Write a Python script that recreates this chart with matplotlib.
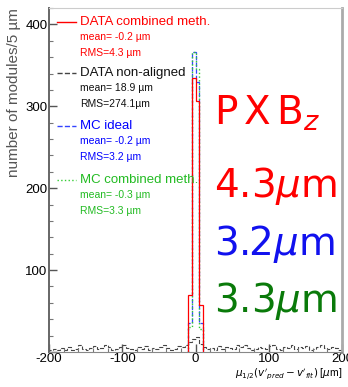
import numpy as np
import matplotlib
matplotlib.use('Agg')
import matplotlib.pyplot as plt
from matplotlib.ticker import MultipleLocator, FuncFormatter

plt.rcParams['font.family'] = ['Liberation Sans', 'DejaVu Sans']
plt.rcParams['mathtext.fontset'] = 'dejavusans'
plt.rcParams['axes.unicode_minus'] = False

# bins of 5 um from -200 to 200
edges = np.arange(-200, 205, 5)

# DATA non-aligned : broad, few modules per bin
data_nonal = [2, 4, 3, 5, 2, 6, 3, 4, 8, 4,
              3, 5, 7, 4, 5, 8, 6, 3, 4, 6,
              8, 5, 4, 3, 6, 4, 7, 3, 5, 4,
              6, 8, 5, 3, 4, 7, 6, 9, 12, 16,
              18, 10, 6, 4, 5, 3, 7, 4, 6, 5,
              4, 8, 6, 9, 5, 3, 4, 6, 5, 4,
              7, 9, 4, 3, 6, 5, 8, 4, 6, 5,
              7, 3, 4, 6, 8, 5, 4, 6, 5, 3]

# narrow peaked distributions: only the central bins are filled
center_edges = [-10, -5, 0, 5, 10]
data_comb = [70, 335, 306, 57]
mc_ideal = [35, 366, 330, 35]
mc_comb = [30, 366, 345, 28]

labels = ['DATA combined meth.', 'DATA non-aligned', 'MC ideal', 'MC combined meth.']
means = ['mean= -0.2 \u00b5m', 'mean= 18.9 \u00b5m', 'mean= -0.2 \u00b5m', 'mean= -0.3 \u00b5m']
rmss = ['RMS=4.3 \u00b5m', 'RMS=274.1\u00b5m', 'RMS=3.2 \u00b5m', 'RMS=3.3 \u00b5m']
colors = ['#ff0000', '#111111', '#0000ff', '#22bb22']
line_colors = ['#ff0000', '#444444', '#3344ff', '#33cc33']
styles = ['-', '--', '--', ':']

big_texts = [r'$\mathrm{P}\,\mathrm{X}\,\mathrm{B}_{z}$', r'4.3$\mu$m', r'3.2$\mu$m', r'3.3$\mu$m']
big_colors = ['#ff0000', '#ff0000', '#1111ee', '#0a7a0a']

W, H = 348, 387
fig = plt.figure(figsize=(W / 100, H / 100), dpi=100)
ax = fig.add_axes([49 / W, 1 - 352 / H, (342 - 49) / W, (352 - 8) / H])

ax.stairs(data_nonal, edges, color=line_colors[1], ls='--', lw=0.8)
ax.stairs(mc_ideal, center_edges, color=line_colors[2], ls='--', lw=0.9)
ax.stairs(mc_comb, center_edges, color=line_colors[3], ls=':', lw=1.0)
ax.stairs(data_comb, center_edges, color=line_colors[0], ls='-', lw=0.9)

ax.set_xlim(-200, 200)
ax.set_ylim(0, 420)
ax.xaxis.set_major_locator(MultipleLocator(100))
ax.xaxis.set_minor_locator(MultipleLocator(20))
ax.yaxis.set_major_locator(MultipleLocator(100))
ax.yaxis.set_minor_locator(MultipleLocator(20))
ax.yaxis.set_major_formatter(FuncFormatter(lambda v, p: '' if v == 0 else '%d' % v))
ax.tick_params(which='major', direction='in', length=6, width=1, labelsize=9.5, colors='#555555',
               labelcolor='black', pad=1)
ax.tick_params(which='minor', direction='in', length=3, width=0.8, colors='#777777')

ax.spines['left'].set_color('#666666')
ax.spines['left'].set_linewidth(1.4)
ax.spines['bottom'].set_color('#888888')
ax.spines['top'].set_color('#cccccc')
ax.spines['right'].set_color('#aaaaaa')
ax.spines['right'].set_linewidth(2)

ax.set_ylabel('number of modules/5 \u00b5m', fontsize=11, color='#555555', loc='top', labelpad=3)
fig.text(342 / W, 1 - 376 / H, r"$\mu_{1/2}(v'_{pred}-v'_{fit})$ [$\mu$m]", fontsize=7.5,
         ha='right', va='baseline')

# legend written as text lines
head_y = [22, 73, 126, 180]
for i in range(4):
    y0 = head_y[i]
    fig.lines.append(plt.Line2D([57 / W, 76 / W], [1 - y0 / H, 1 - y0 / H],
                                transform=fig.transFigure, color=line_colors[i],
                                ls=styles[i], lw=1))
    fig.text(80 / W, 1 - y0 / H, labels[i], color=colors[i], fontsize=9.5, va='center')
    fig.text(80 / W, 1 - (y0 + 15) / H, means[i], color=colors[i], fontsize=7.5, va='center')
    fig.text(80 / W, 1 - (y0 + 31) / H, rmss[i], color=colors[i], fontsize=7.5, va='center')

# big resolution labels
big_y = [125, 197, 255, 312]
for i in range(4):
    fig.text(214 / W, 1 - big_y[i] / H, big_texts[i], color=big_colors[i], fontsize=28,
             family='DejaVu Sans', va='baseline')

fig.savefig('out.png', dpi=100)
